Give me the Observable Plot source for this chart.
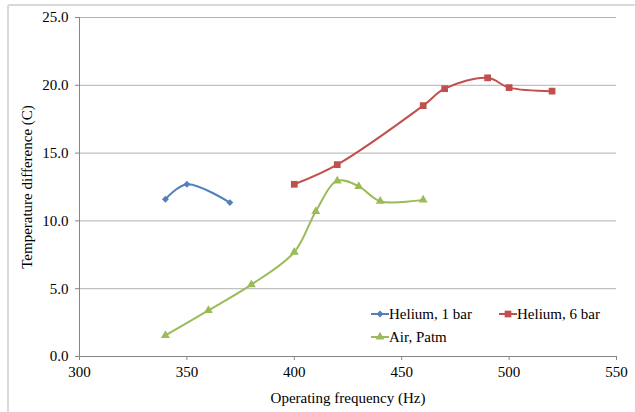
<!DOCTYPE html>
<html>
<head>
<meta charset="utf-8">
<script src="https://cdn.jsdelivr.net/npm/d3@7"></script>
<script src="https://cdn.jsdelivr.net/npm/@observablehq/plot@0.6"></script>
<style>
  html, body { margin: 0; padding: 0; background: #fff; }
  #wrap { position: relative; width: 635px; height: 412px; overflow: hidden; font-family: "Liberation Serif", "DejaVu Serif", serif; }
  #frame { position: absolute; left: 7px; top: 4px; width: 700px; height: 500px; border: 2px solid #d9d9d9; border-radius: 3px; box-sizing: border-box; }
  #chart { position: absolute; left: 0; top: 0; }
  #chart svg, #chart svg text { font-family: "Liberation Serif", "DejaVu Serif", serif !important; }
  #legend { position: absolute; left: 0; top: 0; font-size: 15px; color: #000; font-family: "Liberation Serif", "DejaVu Serif", serif; }
  .item { position: absolute; display: flex; align-items: center; white-space: nowrap; }
</style>
</head>
<body>
<div id="wrap">
  <div id="frame"></div>
  <div id="chart"></div>
  <div id="legend"></div>
</div>
<script>
const seriesNames = ["Helium, 1 bar", "Helium, 6 bar", "Air, Patm"];
const colors = ["#4F81BD", "#C0504D", "#9BBB59"];
const symbols = ["diamond2", "square", "triangle"];

const he1Freq = [340, 350, 370];
const he1Temp = [11.6, 12.7, 11.35];

const he6Freq = [400, 420, 460, 470, 490, 500, 520];
const he6Temp = [12.7, 14.15, 18.5, 19.75, 20.55, 19.83, 19.57];

const airFreq = [340, 360, 380, 400, 410, 420, 430, 440, 460];
const airTemp = [1.55, 3.4, 5.3, 7.7, 10.7, 12.95, 12.55, 11.45, 11.55];

const xTicks = [300, 350, 400, 450, 500, 550];
const yTicks = [0, 5, 10, 15, 20, 25];

const build = (name, fs, ts) => fs.map((f, i) => ({series: name, freq: f, temp: ts[i]}));
const he1 = build(seriesNames[0], he1Freq, he1Temp);
const he6 = build(seriesNames[1], he6Freq, he6Temp);
const air = build(seriesNames[2], airFreq, airTemp);
const all = [he1, he6, air];

const font = "'Liberation Serif', 'DejaVu Serif', serif";
const symbolR = [3.1, 3.8, 3.3];

const plot = Plot.plot({
  width: 635,
  height: 412,
  marginLeft: 79,
  marginRight: 19,
  marginTop: 17,
  marginBottom: 56,
  style: {fontFamily: font, fontSize: "15px", color: "#000", background: "transparent"},
  x: {domain: [300, 550]},
  y: {domain: [0, 25]},
  marks: [
    Plot.ruleY(yTicks.filter(d => d > 0), {stroke: "#b3b3b3", strokeWidth: 1}),
    Plot.axisX({ticks: xTicks, tickSize: 4, stroke: "#868686", tickPadding: 6, tickFormat: d => String(d), label: "Operating frequency (Hz)", labelAnchor: "center", labelOffset: 46, labelArrow: false}),
    Plot.axisY({ticks: yTicks, tickSize: 4, stroke: "#868686", tickPadding: 7, tickFormat: d => d.toFixed(1), label: "Temperature difference (C)", labelAnchor: "center", labelOffset: 58, labelArrow: false}),
    Plot.ruleX([300], {stroke: "#868686"}),
    Plot.ruleY([0], {stroke: "#868686"}),
    ...all.map((data, i) => Plot.line(data, {x: "freq", y: "temp", stroke: colors[i], strokeWidth: 2, curve: "catmull-rom"})),
    ...all.map((data, i) => Plot.dot(data, {x: "freq", y: "temp", fill: colors[i], stroke: "none", symbol: symbols[i], r: symbolR[i]})),
  ]
});
document.getElementById("chart").appendChild(plot);

// legend
const legend = document.getElementById("legend");
const positions = [[371, 314], [499, 314], [371, 337]];
const symMap = {diamond2: d3.symbolDiamond2, square: d3.symbolSquare, triangle: d3.symbolTriangle};
seriesNames.forEach((name, i) => {
  const item = document.createElement("div");
  item.className = "item";
  item.style.left = positions[i][0] + "px";
  item.style.top = (positions[i][1] - 10) + "px";
  const sw = d3.create("svg").attr("width", 18).attr("height", 20);
  sw.append("line").attr("x1", 0).attr("x2", 18).attr("y1", 10).attr("y2", 10).attr("stroke", colors[i]).attr("stroke-width", 2);
  sw.append("path").attr("transform", "translate(9,10)").attr("d", d3.symbol(symMap[symbols[i]], Math.PI * symbolR[i] * symbolR[i])()).attr("fill", colors[i]);
  item.appendChild(sw.node());
  const t = document.createElement("span");
  t.textContent = name;
  item.appendChild(t);
  legend.appendChild(item);
});
</script>
</body>
</html>
